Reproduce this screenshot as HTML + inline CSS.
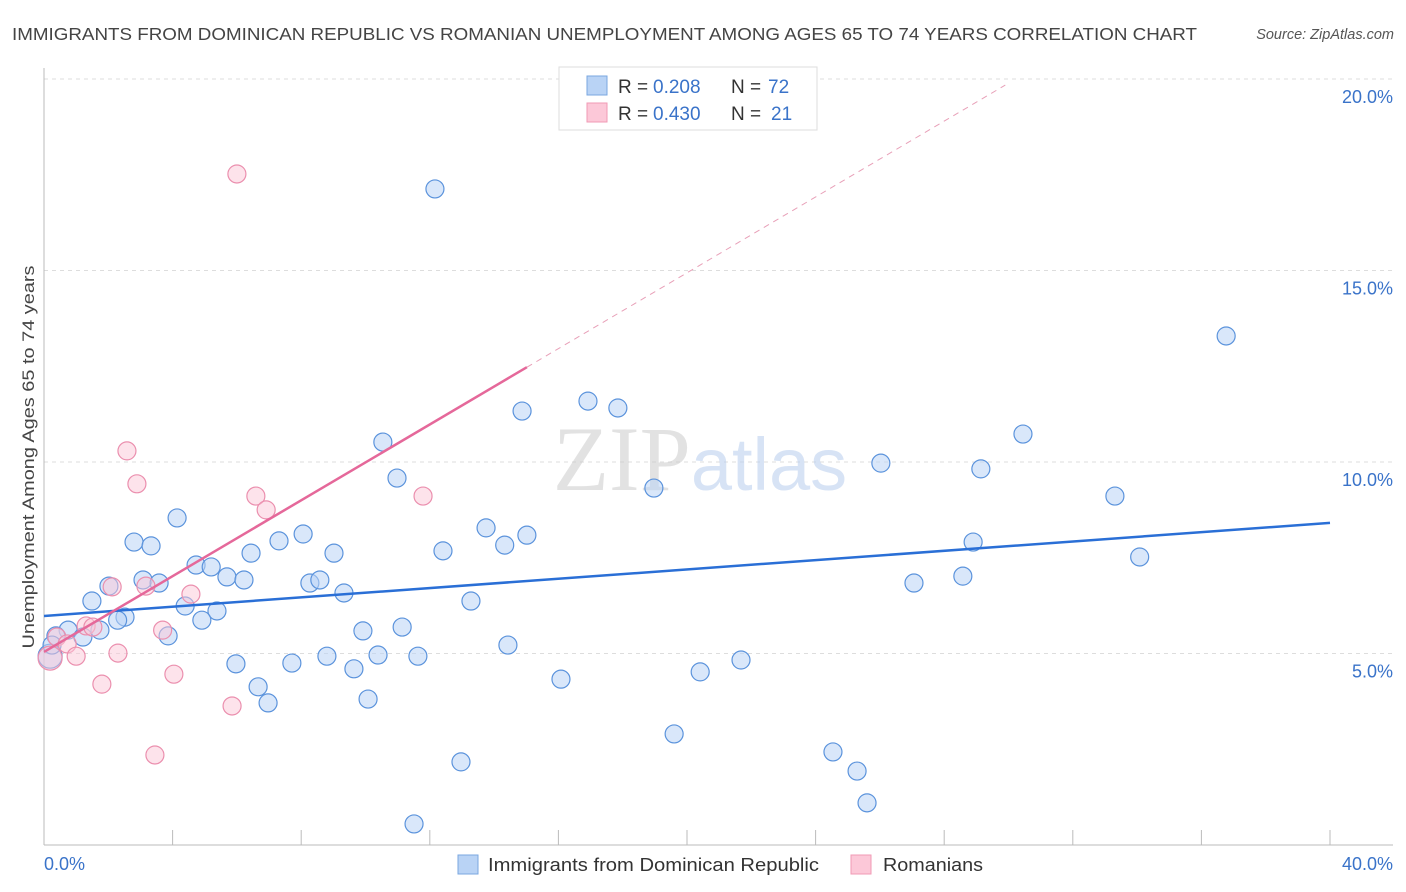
<!DOCTYPE html>
<html><head><meta charset="utf-8"><style>
body{margin:0;background:#fff;font-family:"Liberation Sans",sans-serif}
svg{display:block}
</style></head><body>
<svg id="chart" width="1406" height="892" viewBox="0 0 1406 892">
<text x="12" y="40" font-size="17.5" fill="#444" textLength="1185" lengthAdjust="spacingAndGlyphs">IMMIGRANTS FROM DOMINICAN REPUBLIC VS ROMANIAN UNEMPLOYMENT AMONG AGES 65 TO 74 YEARS CORRELATION CHART</text>
<text x="1394" y="39" font-size="14.5" font-style="italic" fill="#555" text-anchor="end">Source: ZipAtlas.com</text>
<g id="grid"></g>
<text x="700" y="490" font-size="92" text-anchor="middle" fill="#ccc" opacity="0.55" font-family="Liberation Serif">ZIP<tspan fill="#b8cdee" font-family="Liberation Sans" font-size="74">atlas</tspan></text>
<g id="pts"></g>
<g id="lines"></g>
<text transform="translate(34,457) rotate(-90)" font-size="17" fill="#444" text-anchor="middle" textLength="383" lengthAdjust="spacingAndGlyphs">Unemployment Among Ages 65 to 74 years</text>
<text x="44" y="870" font-size="18" fill="#3a73c9">0.0%</text>
<text x="1393" y="870" font-size="18" fill="#3a73c9" text-anchor="end">40.0%</text>
<g>
<rect x="559" y="67" width="258" height="63" fill="#fff" stroke="#ddd"/>
<rect x="587" y="76" width="20" height="19" fill="#b9d3f5" stroke="#7aa7e0"/>
<rect x="587" y="103" width="20" height="19" fill="#fcc8d8" stroke="#f09ab5"/>
<text x="618" y="93" font-size="19" fill="#333">R =</text>
<text x="653" y="93" font-size="19" fill="#3a73c9">0.208</text>
<text x="731" y="93" font-size="19" fill="#333">N =</text>
<text x="768" y="93" font-size="19" fill="#3a73c9">72</text>
<text x="618" y="120" font-size="19" fill="#333">R =</text>
<text x="653" y="120" font-size="19" fill="#3a73c9">0.430</text>
<text x="731" y="120" font-size="19" fill="#333">N =</text>
<text x="771" y="120" font-size="19" fill="#3a73c9">21</text>
</g>
<g>
<rect x="458" y="855" width="20" height="19" fill="#b9d3f5" stroke="#7aa7e0"/>
<text x="488" y="871" font-size="18" fill="#333" textLength="331" lengthAdjust="spacingAndGlyphs">Immigrants from Dominican Republic</text>
<rect x="851" y="855" width="20" height="19" fill="#fcc8d8" stroke="#f09ab5"/>
<text x="883" y="871" font-size="18" fill="#333" textLength="100" lengthAdjust="spacingAndGlyphs">Romanians</text>
</g>
</svg>
<script>
const blueX=[12.16,36.77,16.92,17.85,14.87,30.45,10.54,26.03,29.14,10.98,18.97,33.31,4.14,13.75,15.02,8.06,2.80,3.33,7.31,14.33,28.90,6.44,9.02,12.41,34.08,4.73,5.20,5.69,3.08,3.58,6.22,8.27,8.58,2.02,27.06,28.58,9.33,1.49,13.28,4.39,5.38,2.52,2.29,4.91,0.75,1.74,1.21,3.86,9.92,11.14,0.37,14.43,8.80,10.39,11.63,5.97,7.71,9.64,21.68,20.41,16.08,6.66,6.97,10.08,19.60,24.54,25.29,12.97,25.60,11.51,0.19,0.25];
const blueY=[17.13,13.29,11.59,11.41,11.33,10.73,10.52,9.97,9.82,9.58,9.32,9.11,8.54,8.28,8.09,8.12,7.91,7.81,7.94,7.83,7.91,7.62,7.62,7.68,7.52,7.31,7.26,7.00,6.92,6.84,6.92,6.84,6.92,6.76,6.84,7.02,6.58,6.37,6.37,6.24,6.11,5.95,5.87,5.87,5.61,5.61,5.43,5.46,5.59,5.69,5.46,5.22,4.93,4.96,4.93,4.73,4.75,4.60,4.83,4.52,4.33,4.13,3.71,3.81,2.90,2.43,1.93,2.17,1.10,0.55,4.93,5.22];
const pinkX=[6.00,2.58,2.89,6.59,6.91,11.79,2.12,3.17,4.57,1.31,1.52,3.69,0.40,0.72,1.00,2.30,4.04,1.80,5.85,3.45,0.19];
const pinkY=[17.52,10.29,9.43,9.11,8.75,9.11,6.74,6.76,6.55,5.72,5.69,5.61,5.43,5.25,4.93,5.01,4.46,4.20,3.63,2.35,4.88];
const blueTrend=[5.98,8.41];   // y at x=0, x=40
const pinkTrend=[5.04,0.495];  // intercept, slope
const pinkSolidEnd=15.02, pinkDashEnd=29.9;
const yTicks=[5,10,15,20];
const yTickLabels=["5.0%","10.0%","15.0%","20.0%"];
const xTicks=[0,4,8,12,16,20,24,28,32,36,40];

const X=v=>44+v*32.15, Y=v=>845-v*38.3;
const NS="http://www.w3.org/2000/svg";
function mk(tag,attrs,parent){const e=document.createElementNS(NS,tag);for(const k in attrs)e.setAttribute(k,attrs[k]);parent.appendChild(e);return e;}
const grid=document.getElementById('grid');
yTicks.forEach((t,i)=>{
  const l=mk('line',{x1:44,x2:1393,y1:Y(t),y2:Y(t),stroke:'#ddd','stroke-dasharray':'4,4'},grid);
  
  
  const tx=mk('text',{x:1393,y:Y(t)+24,'font-size':18,fill:'#3a73c9','text-anchor':'end'},grid);
  tx.textContent=yTickLabels[i];
  
  
});
const ax=mk('line',{x1:44,x2:44,y1:68,y2:845,stroke:'#bbb'},grid);


const bx=mk('line',{x1:44,x2:1393,y1:845,y2:845,stroke:'#bbb'},grid);


xTicks.forEach(t=>{
  const l=mk('line',{x1:X(t),x2:X(t),y1:830,y2:845,stroke:'#bbb'},grid);
  
  
});
const pts=document.getElementById('pts');
blueX.forEach((x,i)=>{
  const c=mk('circle',{cx:X(x),cy:Y(blueY[i]),r:(i===70?12:9),fill:'#b9d3f5','fill-opacity':0.55,stroke:'#5b93dc','stroke-width':1.2},pts);
  
  
});
pinkX.forEach((x,i)=>{
  const c=mk('circle',{cx:X(x),cy:Y(pinkY[i]),r:(i===20?12:9),fill:'#fcc8d8','fill-opacity':0.5,stroke:'#eb8fae','stroke-width':1.2},pts);
  
  
});
const lines=document.getElementById('lines');
const bl=mk('line',{x1:X(0),y1:Y(blueTrend[0]),x2:X(40),y2:Y(blueTrend[1]),stroke:'#2a6fd6','stroke-width':2.5},lines);


const pf=x=>pinkTrend[0]+pinkTrend[1]*x;
const pl=mk('line',{x1:X(0),y1:Y(pf(0)),x2:X(pinkSolidEnd),y2:Y(pf(pinkSolidEnd)),stroke:'#e5689a','stroke-width':2.5},lines);


const pd=mk('line',{x1:X(pinkSolidEnd),y1:Y(pf(pinkSolidEnd)),x2:X(pinkDashEnd),y2:Y(pf(pinkDashEnd)),stroke:'#e8a0b8','stroke-width':1,'stroke-dasharray':'6,5'},lines);


</script>
</body></html>
